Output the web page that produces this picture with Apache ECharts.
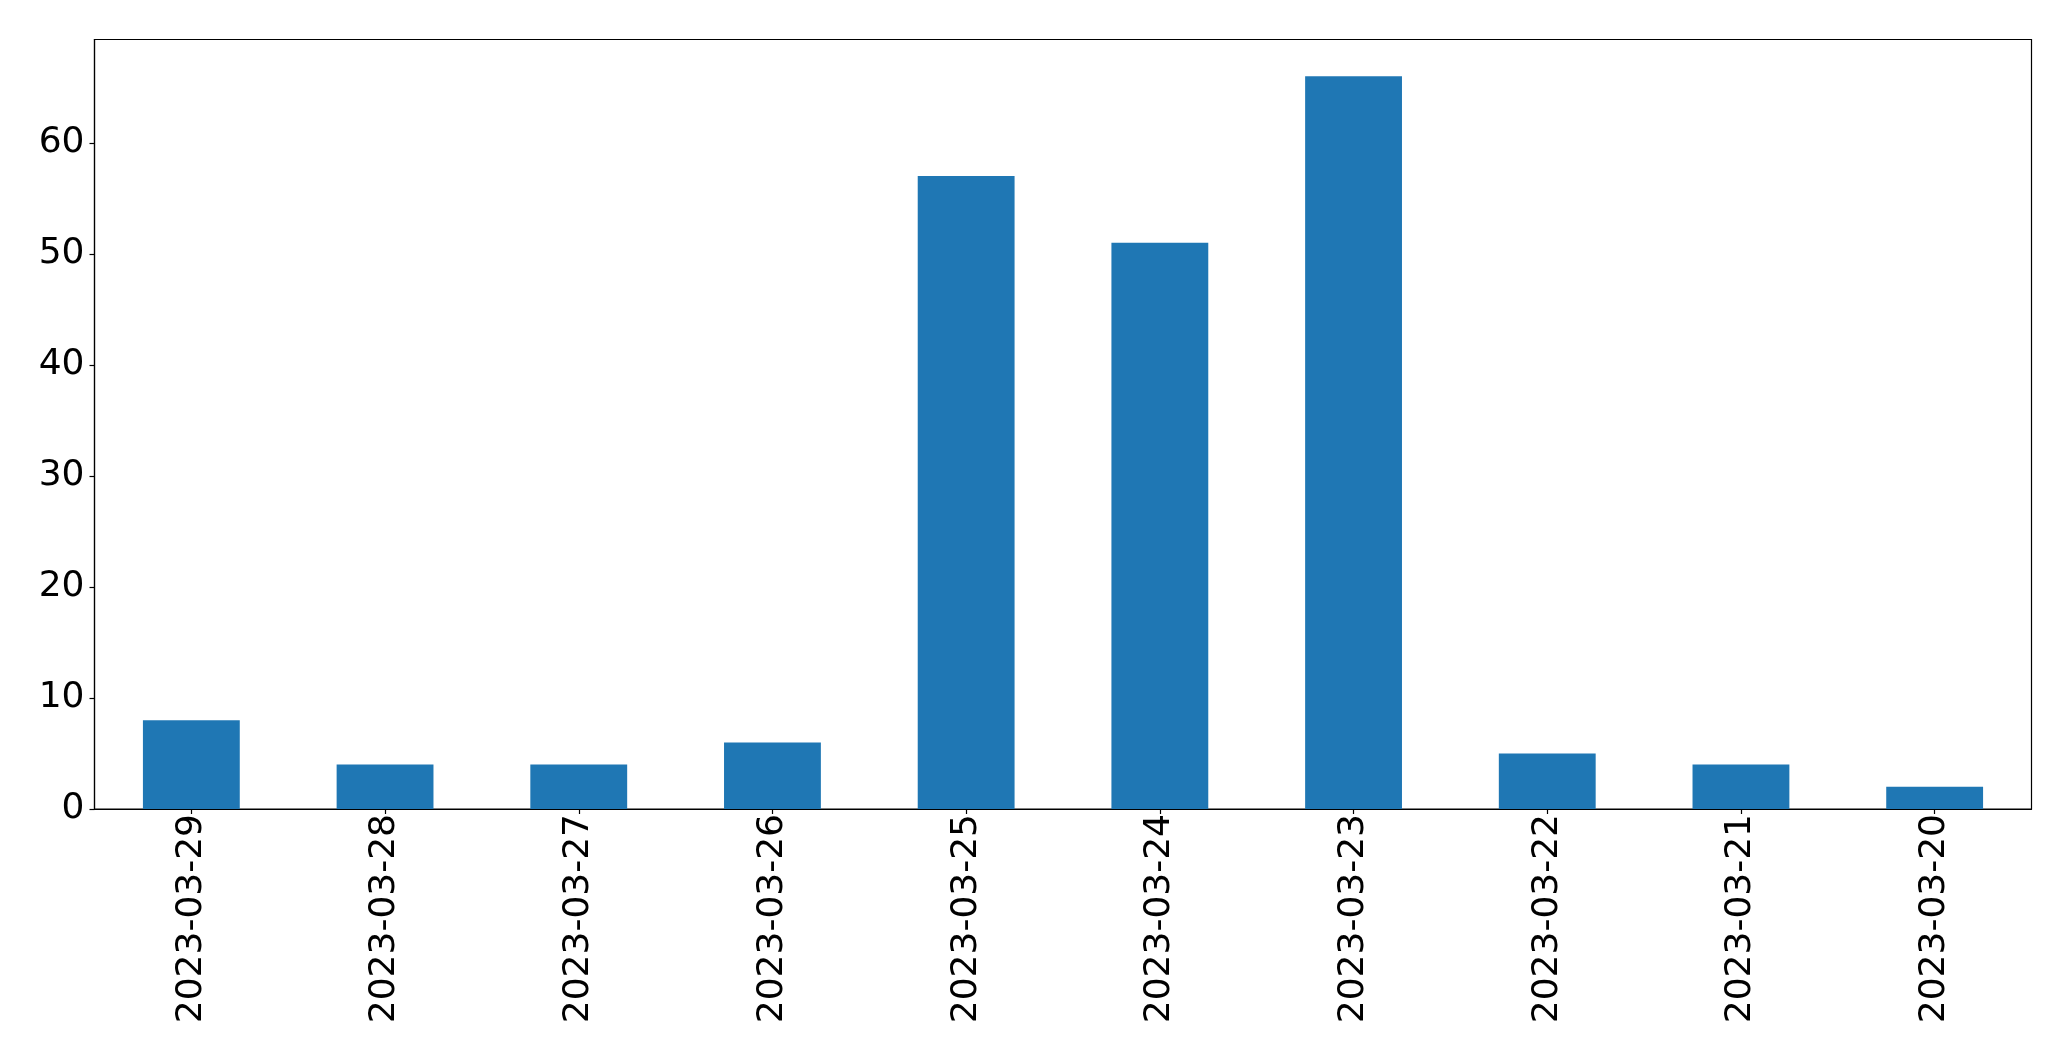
<!DOCTYPE html>
<html>
<head>
<meta charset="utf-8">
<script src="https://cdn.jsdelivr.net/npm/echarts@6/dist/echarts.min.js"></script>
<style>html,body{margin:0;padding:0;background:#fff;}#c{width:2071px;height:1061px;}</style>
</head>
<body>
<div id="c"></div>
<script>
const categories = ['2023-03-29','2023-03-28','2023-03-27','2023-03-26','2023-03-25','2023-03-24','2023-03-23','2023-03-22','2023-03-21','2023-03-20'];
const values = [8, 4, 4, 6, 57, 51, 66, 5, 4, 2];
const yTicks = [0, 10, 20, 30, 40, 50, 60];

const chart = echarts.init(document.getElementById('c'), null, {renderer: 'canvas'});
chart.setOption({
  animation: false,
  backgroundColor: '#fff',
  grid: {left: 94.5, right: 39.5, top: 39.5, bottom: 252, show: true, borderColor: '#000', borderWidth: 1.2, backgroundColor: 'transparent'},
  xAxis: {
    type: 'category',
    data: categories,
    boundaryGap: true,
    axisLine: {show: true, lineStyle: {color: '#000', width: 1.2}},
    axisTick: {show: true, alignWithLabel: true, length: 5, lineStyle: {color: '#000', width: 1.2}},
    axisLabel: {rotate: 90, margin: 5, color: '#000', fontSize: 36, fontFamily: 'DejaVu Sans', interval: 0},
    splitLine: {show: false}
  },
  yAxis: {
    type: 'value',
    min: 0,
    max: 69.3,
    interval: 10,
    axisLine: {show: true, lineStyle: {color: '#000', width: 1.2}},
    axisTick: {show: true, length: 5, customValues: yTicks, lineStyle: {color: '#000', width: 1.2}},
    axisLabel: {margin: 10, color: '#000', fontSize: 36, fontFamily: 'DejaVu Sans', customValues: yTicks},
    splitLine: {show: false}
  },
  series: [{
    type: 'bar',
    data: values,
    barWidth: '50%',
    itemStyle: {color: '#1f77b4'}
  }]
});
</script>
</body>
</html>
